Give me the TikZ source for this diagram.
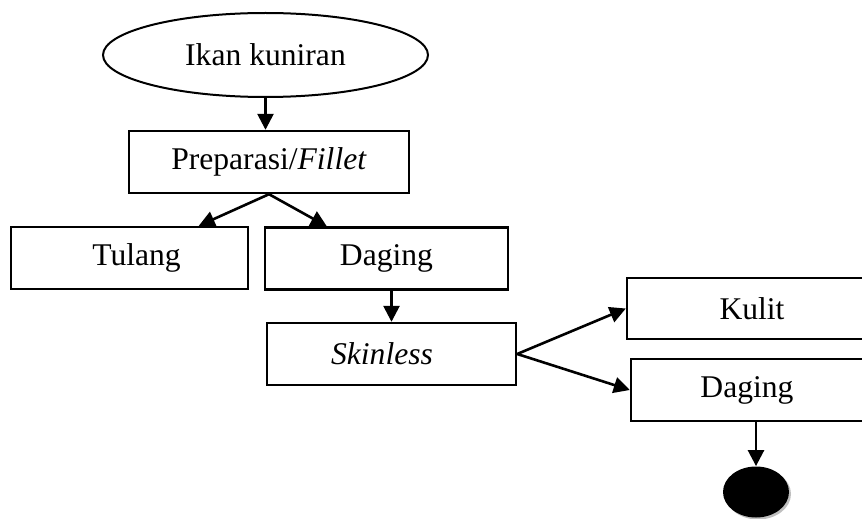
\documentclass[tikz,border=0pt]{standalone}
\usepackage{fontspec}
\setmainfont{Liberation Serif}
\usetikzlibrary{shapes.geometric,arrows.meta,calc}
\begin{document}
\begin{tikzpicture}[x=0.5pt,y=-0.5pt,
  every node/.style={font=\fontsize{15.8}{19}\selectfont, inner sep=0pt},
  box/.style={draw, line width=1.2pt, rectangle},
  arr/.style={line width=1.3pt, -{Triangle[length=8pt,width=8pt]}}]
\useasboundingbox (0,0) rectangle (862,519);
\clip (0,0) rectangle (862,519);
\node[draw, line width=1pt, ellipse, minimum width=162.5pt, minimum height=42pt] (ell) at (265.5,55) {Ikan kuniran};
\node[box, minimum width=140pt, minimum height=31pt] (prep) at (269,162) {Preparasi/\textit{Fillet}};
\node[box, minimum width=118.5pt, minimum height=31pt] (tul) at (129.5,258) {\hspace*{7pt}Tulang};
\node[box, minimum width=121.5pt, minimum height=31pt] (dag1) at (386.5,258.5) {Daging};
\node[box, minimum width=124.5pt, minimum height=31pt] (skin) at (391.5,354) {\hspace*{-9.5pt}\textit{Skinless}};
\node[box, minimum width=125pt, minimum height=30.5pt] (kul) at (752,308.5) {Kulit};
\node[box, minimum width=116pt, minimum height=31pt] (dag2) at (747,390) {Daging};
\node[fill=gray!50, ellipse, minimum width=33pt, minimum height=25.5pt] (shad) at (758,494) {};
\node[fill=black, ellipse, minimum width=33pt, minimum height=25.5pt] (circ) at (756,492) {};
\draw[arr] (ell.south) -- (ell.south |- prep.north);
\draw[arr] (prep.south) -- ($(tul.north west)+(189,0)$);
\draw[arr] (prep.south) -- ($(dag1.north west)+(63,0)$);
\draw[arr] (dag1.south -| skin.north) -- (skin.north);
\draw[arr] (skin.east) -- (kul.west);
\draw[arr] (skin.east) -- (dag2.west);
\draw[arr] (dag2.south -| circ.north) -- (circ.north);
\end{tikzpicture}
\end{document}
